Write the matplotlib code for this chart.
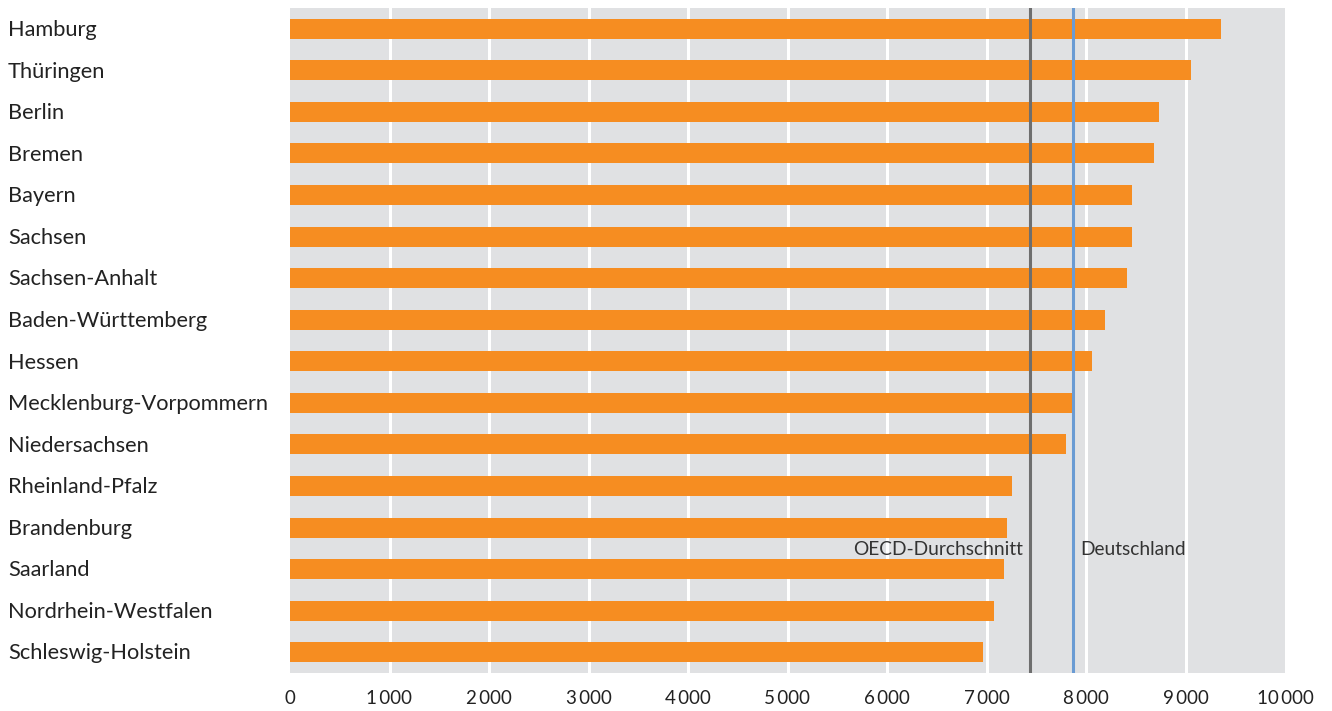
import matplotlib.pyplot as plt
import matplotlib.transforms as mtransforms

plt.rcParams['font.family'] = ['Lato', 'DejaVu Sans']

# Bundeslaender und Werte (von oben nach unten)
laender = ["Hamburg", "Thüringen", "Berlin", "Bremen", "Bayern", "Sachsen",
           "Sachsen-Anhalt", "Baden-Württemberg", "Hessen",
           "Mecklenburg-Vorpommern", "Niedersachsen", "Rheinland-Pfalz",
           "Brandenburg", "Saarland", "Nordrhein-Westfalen", "Schleswig-Holstein"]
werte = [9360, 9055, 8730, 8680, 8460, 8460, 8410, 8190, 8060,
         7880, 7800, 7260, 7210, 7180, 7080, 6960]

oecd = 7440
deutschland = 7870

xticks = [0, 1000, 2000, 3000, 4000, 5000, 6000, 7000, 8000, 9000, 10000]

fig = plt.figure(figsize=(13.32, 7.11), dpi=100)
ax = fig.add_axes([290 / 1332, 1 - 673 / 711, 995 / 1332, 665 / 711])
ax.set_facecolor("#e0e1e3")

pos = list(range(len(laender)))
ax.barh(pos, werte, height=0.48, color="#f68d21", zorder=3)

ax.set_xlim(0, 10000)
ax.set_ylim(len(laender) - 0.5, -0.5)

# weisse Gitterlinien
for t in xticks[1:-1]:
    ax.axvline(t, color="white", lw=2.2, zorder=1)

ax.axvline(oecd, color="#6e6e6e", lw=2.2, zorder=4)
ax.axvline(deutschland, color="#6a9bd3", lw=2.2, zorder=4)

ax.text(oecd - 70, 12.52, "OECD-Durchschnitt", ha="right", va="center",
        fontsize=13.8, color="#333333", zorder=5)
ax.text(deutschland + 70, 12.52, "Deutschland", ha="left", va="center",
        fontsize=13.8, color="#333333", zorder=5)

ax.set_xticks(xticks)
ax.set_xticklabels([f"{t:,}".replace(",", "\u2009") for t in xticks],
                   fontsize=13.5, color="#222222")
ax.tick_params(axis="x", length=0, pad=12)
ax.set_yticks([])
for s in ax.spines.values():
    s.set_visible(False)

# Laendernamen links
trans = mtransforms.blended_transform_factory(fig.transFigure, ax.transData)
for i, name in enumerate(laender):
    ax.text(8 / 1332, i + 0.03, name, transform=trans, ha="left", va="center",
            fontsize=15.7, color="#222222")

fig.savefig("out.png", dpi=100)
